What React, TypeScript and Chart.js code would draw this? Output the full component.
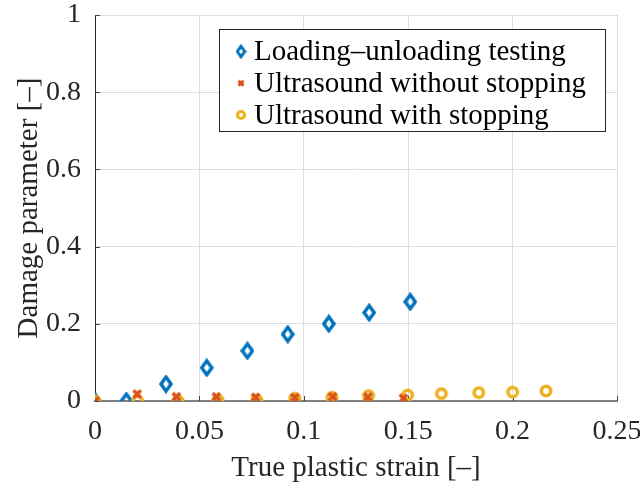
import React, { useEffect, useRef } from "react";
import { Chart, registerables } from "chart.js";

Chart.register(...registerables);

const seriesNames = [
  "Loading–unloading testing",
  "Ultrasound without stopping",
  "Ultrasound with stopping",
];

const loadingX = [0, 0.015, 0.034, 0.0535, 0.073, 0.0923, 0.112, 0.1313, 0.151];
const loadingY = [0, 0, 0.044, 0.086, 0.13, 0.173, 0.2, 0.229, 0.257];

const withoutX = [0, 0.0202, 0.039, 0.0581, 0.0769, 0.0957, 0.1138, 0.1307, 0.1477];
const withoutY = [0, 0.018, 0.011, 0.011, 0.0095, 0.0086, 0.011, 0.0104, 0.007];

const withX = [0, 0.0204, 0.0398, 0.0589, 0.0775, 0.0957, 0.1135, 0.131, 0.1497, 0.1659, 0.1838, 0.2, 0.216];
const withY = [0, 0, 0, 0.002, 0.002, 0.007, 0.0095, 0.0138, 0.0155, 0.019, 0.0216, 0.023, 0.026];

const xTicks = [0, 0.05, 0.1, 0.15, 0.2, 0.25];
const yTicks = [0, 0.2, 0.4, 0.6, 0.8, 1];

const xTitle = "True plastic strain [–]";
const yTitle = "Damage parameter [–]";

const BLUE = "#0072BD";
const RED = "#D95319";
const YELLOW = "#EDB120";
const FONT = "'Liberation Serif', 'Times New Roman', serif";
const TEXT = "#262626";

function makeDiamond(w: number, h: number, lw: number) {
  const c = document.createElement("canvas");
  c.width = w;
  c.height = h;
  const ctx = c.getContext("2d")!;
  ctx.strokeStyle = BLUE;
  ctx.lineWidth = lw;
  ctx.lineJoin = "miter";
  const mx = lw / 2 + 0.3;
  const my = lw * 0.75;
  ctx.beginPath();
  ctx.moveTo(w / 2, my);
  ctx.lineTo(w - mx, h / 2);
  ctx.lineTo(w / 2, h - my);
  ctx.lineTo(mx, h / 2);
  ctx.closePath();
  ctx.stroke();
  return c;
}

function makeCross(s: number, lw: number) {
  const c = document.createElement("canvas");
  c.width = s;
  c.height = s;
  const ctx = c.getContext("2d")!;
  ctx.strokeStyle = RED;
  ctx.lineWidth = lw;
  ctx.lineCap = "butt";
  const m = lw / 2;
  ctx.beginPath();
  ctx.moveTo(m, m);
  ctx.lineTo(s - m, s - m);
  ctx.moveTo(s - m, m);
  ctx.lineTo(m, s - m);
  ctx.stroke();
  return c;
}

function makeCircle(s: number, r: number, lw: number) {
  const c = document.createElement("canvas");
  c.width = s;
  c.height = s;
  const ctx = c.getContext("2d")!;
  ctx.strokeStyle = YELLOW;
  ctx.lineWidth = lw;
  ctx.beginPath();
  ctx.arc(s / 2, s / 2, r, 0, Math.PI * 2);
  ctx.stroke();
  return c;
}

function zeroPad(s: any) {
  s.paddingLeft = 0;
  s.paddingRight = 0;
  s.paddingTop = 0;
  s.paddingBottom = 0;
}

export default function App() {
  const ref = useRef<HTMLCanvasElement>(null);

  useEffect(() => {
    document.body.style.margin = "0";
    const diamond = makeDiamond(14, 19, 3.4);
    const cross = makeCross(11, 3.6);
    const circle = makeCircle(16, 4.7, 3.6);
    const lDiamond = makeDiamond(11, 15, 3);
    const lCross = makeCross(8, 3);
    const lCircle = makeCircle(12, 3.6, 3);

    const legendPlugin = {
      id: "boxLegend",
      afterDraw(chart: any) {
        const ctx = chart.ctx;
        ctx.save();
        const bx = 219.5, by = 29.5, bw = 386, bh = 102;
        ctx.fillStyle = "#ffffff";
        ctx.fillRect(bx, by, bw, bh);
        ctx.strokeStyle = "#262626";
        ctx.lineWidth = 1;
        ctx.strokeRect(bx, by, bw, bh);
        const icons = [lDiamond, lCross, lCircle];
        ctx.font = `29px ${FONT}`;
        ctx.fillStyle = "#000";
        ctx.textBaseline = "middle";
        seriesNames.forEach((name, i) => {
          const cy = 51.5 + i * 31.7;
          const ic = icons[i];
          ctx.drawImage(ic, 241 - ic.width / 2, cy - ic.height / 2);
          ctx.fillText(name, 254, cy + 1);
        });
        ctx.restore();
      },
    };

    const tickPlugin = {
      id: "inTicks",
      beforeDatasetsDraw(chart: any) {
        const ctx = chart.ctx;
        const a = chart.chartArea;
        const xs = chart.scales.x;
        const ys = chart.scales.y;
        ctx.save();
        ctx.strokeStyle = "#444";
        ctx.lineWidth = 1;
        ctx.beginPath();
        xTicks.forEach((t) => {
          const px = Math.round(xs.getPixelForValue(t)) + 0.5;
          ctx.moveTo(px, a.bottom);
          ctx.lineTo(px, a.bottom - 5);
        });
        yTicks.forEach((t) => {
          const py = Math.round(ys.getPixelForValue(t)) + 0.5;
          ctx.moveTo(a.left, py);
          ctx.lineTo(a.left + 5, py);
        });
        ctx.stroke();
        ctx.restore();
      },
    };

    const chart = new Chart(ref.current!, {
      type: "scatter",
      data: {
        datasets: [
          {
            label: seriesNames[0],
            data: loadingX.map((x, i) => ({ x, y: loadingY[i] })),
            pointStyle: diamond as any,
            order: 3,
          },
          {
            label: seriesNames[1],
            data: withoutX.map((x, i) => ({ x, y: withoutY[i] })),
            pointStyle: cross as any,
            order: 1,
          },
          {
            label: seriesNames[2],
            data: withX.map((x, i) => ({ x, y: withY[i] })),
            pointStyle: circle as any,
            order: 2,
          },
        ],
      },
      options: {
        animation: false,
        responsive: false,
        devicePixelRatio: 1,
        layout: { padding: { left: 12, right: 23, top: 15, bottom: 0 } },
        plugins: {
          legend: { display: false },
          tooltip: { enabled: false },
        },
        scales: {
          x: {
            type: "linear",
            min: 0,
            max: 0.25,
            afterBuildTicks: (s: any) => {
              s.ticks = xTicks.map((v) => ({ value: v }));
            },
            afterFit: (s: any) => {
              s.height = 87;
              zeroPad(s);
            },
            ticks: {
              padding: 14,
              color: TEXT,
              font: { family: FONT, size: 28 },
              callback: (v: any) => String(v),
              maxRotation: 0,
            },
            grid: { color: "#dedede", drawTicks: false, lineWidth: 1 },
            border: { color: "#808080", width: 2 },
            title: {
              display: true,
              text: xTitle,
              color: TEXT,
              font: { family: FONT, size: 29 },
              padding: { top: 0, bottom: 2 },
            },
          },
          y: {
            type: "linear",
            min: 0,
            max: 1,
            afterBuildTicks: (s: any) => {
              s.ticks = yTicks.map((v) => ({ value: v }));
            },
            afterFit: (s: any) => {
              s.width = 83;
              zeroPad(s);
            },
            ticks: {
              padding: 14,
              color: TEXT,
              font: { family: FONT, size: 28 },
              callback: (v: any) => String(v),
            },
            grid: { color: "#dedede", drawTicks: false, lineWidth: 1 },
            border: { color: "#262626", width: 1 },
            title: {
              display: true,
              text: yTitle,
              color: TEXT,
              font: { family: FONT, size: 29 },
              padding: { top: 0, bottom: 0 },
            },
          },
        },
      },
      plugins: [tickPlugin, legendPlugin],
    });
    return () => chart.destroy();
  }, []);

  return (
    <div style={{ position: "absolute", left: 0, top: 0, width: 640, height: 488 }}>
      <canvas ref={ref} width={640} height={488} style={{ width: 640, height: 488 }} />
    </div>
  );
}
